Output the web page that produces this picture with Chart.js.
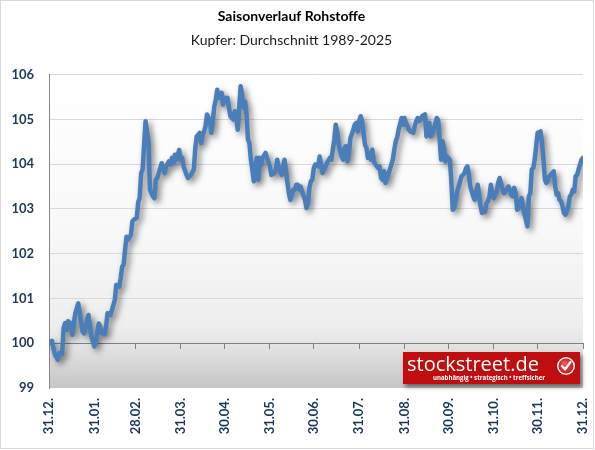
<!DOCTYPE html>
<html lang="de">
<head>
<meta charset="utf-8">
<title>Saisonverlauf Rohstoffe</title>
<script src="https://cdn.jsdelivr.net/npm/chart.js@4.4.1/dist/chart.umd.min.js"></script>
<style>
  html, body { margin: 0; padding: 0; background: #fff; }
  #rahmen { position: relative; width: 595px; height: 450px; }
  #rahmen canvas { position: absolute; left: 0; top: 0; }
  #linie { position: absolute; left: 0; top: 0; width: 594px; height: 449px; border: 1px solid #d9d9d9; box-sizing: border-box; pointer-events: none; }
</style>
</head>
<body>
<div id="rahmen">
  <canvas id="grafik" width="595" height="450"></canvas>
  <div id="linie"></div>
</div>
<script>
// =====================================================
// DATEN - KUPFER SAISONVERLAUF (Tag im Jahr / Indexwert)
// =====================================================

const tage = [
  0, 2, 4, 6, 7, 9, 10, 11, 12, 13, 15, 16, 17, 18, 20, 21, 23, 24, 26, 27, 28, 29, 31, 32, 33, 34, 35, 36, 38, 39,
  40, 42, 43, 45, 46, 48, 49, 50, 51, 52, 53, 54, 56, 57, 58, 60, 61, 62, 63, 64, 65, 66, 67, 68, 69, 70, 71, 72, 73, 74,
  75, 77, 78, 79, 80, 82, 83, 84, 85, 86, 87, 89, 90, 91, 92, 94, 95, 97, 99, 100, 101, 103, 104, 105, 106, 107, 108, 110, 111, 112,
  113, 114, 115, 116, 118, 119, 120, 121, 122, 123, 124, 126, 127, 128, 129, 130, 131, 132, 133, 134, 135, 136, 137, 138, 139, 140, 141, 142, 143, 144,
  145, 146, 148, 149, 151, 152, 154, 155, 156, 157, 159, 160, 161, 162, 163, 164, 165, 167, 168, 169, 170, 171, 172, 173, 175, 176, 177, 178, 179, 180,
  181, 182, 184, 185, 186, 187, 189, 190, 192, 193, 194, 195, 196, 197, 198, 200, 201, 202, 203, 204, 205, 206, 208, 209, 210, 211, 212, 213, 214, 216,
  217, 218, 219, 220, 221, 222, 224, 225, 226, 227, 228, 229, 230, 231, 233, 235, 236, 237, 238, 239, 241, 242, 243, 244, 245, 246, 247, 249, 250, 251,
  252, 253, 254, 255, 257, 258, 259, 260, 261, 262, 263, 265, 266, 267, 268, 269, 270, 271, 272, 274, 275, 276, 277, 278, 279, 280, 282, 283, 284, 285,
  286, 287, 288, 290, 291, 292, 293, 294, 295, 296, 298, 299, 300, 301, 302, 303, 304, 306, 307, 308, 309, 310, 311, 312, 314, 315, 316, 317, 318, 319,
  320, 321, 323, 324, 325, 326, 327, 328, 329, 330, 331, 332, 333, 334, 336, 337, 338, 339, 340, 341, 342, 344, 345, 346, 347, 348, 349, 350, 351, 352,
  353, 355, 356, 357, 358, 359, 360, 361, 362, 364, 365
];

const werte = [
  100.0, 100.05, 99.75, 99.63, 99.78, 99.76, 100.34, 100.45, 100.3, 100.49, 100.44, 100.19, 100.45, 100.67, 100.89, 100.67, 100.26, 100.22, 100.52, 100.63, 100.37, 100.15, 99.93, 100.0, 100.26, 100.44, 100.37, 100.23, 100.2, 100.37,
  100.67, 100.63, 100.74, 100.97, 101.3, 101.26, 101.45, 101.71, 101.75, 102.09, 102.38, 102.31, 102.42, 102.72, 102.76, 102.8, 103.15, 103.25, 103.8, 103.88, 104.43, 104.96, 104.73, 104.51, 103.43, 103.35, 103.28, 103.24, 103.65, 103.69,
  103.8, 104.02, 103.91, 103.8, 103.95, 104.06, 103.99, 104.14, 104.02, 104.21, 104.1, 104.32, 104.1, 104.14, 103.95, 103.76, 103.69, 103.76, 103.88, 104.36, 104.62, 104.7, 104.47, 104.66, 104.73, 104.85, 105.11, 104.96, 104.7, 104.99,
  105.29, 105.44, 105.66, 105.48, 105.59, 105.33, 105.48, 105.4, 105.48, 105.26, 105.07, 105.0, 105.18, 105.07, 104.77, 105.26, 105.74, 105.55, 105.26, 105.4, 105.11, 104.55, 104.47, 104.1, 103.88, 103.62, 103.95, 104.14, 103.65, 104.14,
  103.99, 104.14, 104.25, 104.14, 103.95, 103.76, 103.8, 103.88, 104.1, 103.91, 103.76, 103.95, 104.1, 103.84, 103.58, 103.35, 103.2, 103.43, 103.43, 103.54, 103.54, 103.43, 103.5, 103.39, 103.2, 103.02, 103.13, 103.47, 103.62, 103.65,
  103.91, 103.99, 103.95, 104.17, 103.99, 103.8, 103.95, 104.02, 104.14, 104.1, 104.32, 104.55, 104.88, 104.73, 104.43, 104.17, 104.1, 104.36, 104.4, 104.06, 104.25, 104.58, 104.77, 104.88, 104.92, 104.73, 104.96, 105.07, 104.96, 104.43,
  104.36, 104.14, 104.25, 104.1, 104.32, 104.06, 103.95, 103.91, 103.95, 103.69, 103.65, 103.84, 103.58, 103.69, 103.88, 104.1, 104.32, 104.51, 104.6, 104.77, 105.03, 104.88, 105.03, 104.92, 104.85, 104.77, 104.73, 104.7, 104.85, 104.96,
  105.03, 104.96, 104.99, 105.07, 105.11, 104.62, 104.81, 104.92, 104.62, 104.7, 104.77, 105.03, 104.99, 104.55, 104.1, 104.51, 104.36, 104.06, 104.17, 104.1, 103.62, 102.98, 103.02, 103.2, 103.39, 103.5, 103.73, 103.76, 103.8, 103.91,
  103.95, 103.76, 103.5, 103.28, 103.2, 103.39, 103.54, 103.32, 103.06, 102.91, 102.94, 103.13, 103.17, 103.28, 103.54, 103.35, 103.24, 103.39, 103.58, 103.69, 103.58, 103.43, 103.35, 103.39, 103.5, 103.43, 103.32, 103.28, 103.47, 103.35,
  102.98, 103.02, 103.24, 103.06, 102.87, 102.76, 102.61, 103.28, 103.35, 103.88, 103.91, 104.1, 104.4, 104.7, 104.73, 104.47, 104.1, 103.65, 103.58, 103.62, 103.73, 103.8, 103.84, 103.5, 103.32, 103.35, 103.2, 103.17, 103.06, 102.91,
  102.87, 103.06, 103.28, 103.32, 103.43, 103.39, 103.73, 103.76, 103.88, 104.1, 104.14
];

// Monatsenden (Tag im Jahr) und ihre Beschriftung
const monatsTage = [0, 31, 59, 90, 120, 151, 181, 212, 243, 273, 304, 334, 365];
const monatsLabels = ["31.12.", "31.01.", "28.02.", "31.03.", "30.04.", "31.05.", "30.06.", "31.07.", "31.08.", "30.09.", "31.10.", "30.11.", "31.12."];

const yMin = 99;
const yMax = 106;

const schrift = "Lato, 'Noto Sans', sans-serif";

// =====================================================
// PLUGINS
// =====================================================

// Hintergrund der Zeichenflaeche (weiss -> grau)
const hintergrund = {
  id: "hintergrund",
  beforeDraw(chart) {
    const { ctx, chartArea: a } = chart;
    const g = ctx.createLinearGradient(0, a.top, 0, a.bottom);
    g.addColorStop(0, "#ffffff");
    g.addColorStop(0.5, "#f8f8f8");
    g.addColorStop(0.8, "#eeeeee");
    g.addColorStop(0.86, "#e4e4e4");
    g.addColorStop(1, "#c6c6c6");
    ctx.save();
    ctx.fillStyle = g;
    ctx.fillRect(a.left, a.top, a.right - a.left, a.bottom - a.top);
    ctx.restore();
  }
};

// Schatten unter der Linie
const schatten = {
  id: "schatten",
  beforeDatasetsDraw(chart) {
    const ctx = chart.ctx;
    ctx.save();
    ctx.shadowColor = "rgba(0, 0, 0, 0.5)";
    ctx.shadowBlur = 6;
    ctx.shadowOffsetX = 3;
    ctx.shadowOffsetY = 3;
  },
  afterDatasetsDraw(chart) {
    chart.ctx.restore();
  }
};

// Logo unten rechts
const logo = {
  id: "logo",
  afterDraw(chart) {
    const { ctx, chartArea: a } = chart;
    const x = a.right - 180;
    const y = a.bottom - 36;
    const w = 177;
    const h = 32;

    ctx.save();
    ctx.shadowColor = "rgba(0, 0, 0, 0.5)";
    ctx.shadowBlur = 4;
    ctx.shadowOffsetX = 2;
    ctx.shadowOffsetY = 3;
    ctx.fillStyle = "#bf0d10";
    ctx.fillRect(x, y, w, h);
    ctx.restore();

    ctx.save();
    ctx.fillStyle = "#ffffff";
    ctx.textBaseline = "alphabetic";
    ctx.font = "20px 'Open Sans', sans-serif";
    ctx.fillText("stockstreet.de", x + 4, y + 19, 141);
    ctx.font = "bold 7px 'Open Sans', sans-serif";
    ctx.fillText("unabhängig • strategisch • treffsicher", x + 30, y + 28, 112);

    // Haken-Symbol
    const cx = x + 163;
    const cy = y + 14;
    ctx.beginPath();
    ctx.arc(cx, cy, 9, 0, Math.PI * 2);
    ctx.fillStyle = "#f4f4f4";
    ctx.fill();
    const rg = ctx.createRadialGradient(cx - 2, cy - 3, 1, cx, cy, 8);
    rg.addColorStop(0, "#f05a50");
    rg.addColorStop(1, "#c4161c");
    ctx.beginPath();
    ctx.arc(cx, cy, 7.5, 0, Math.PI * 2);
    ctx.fillStyle = rg;
    ctx.fill();
    ctx.beginPath();
    ctx.moveTo(cx - 4, cy);
    ctx.lineTo(cx - 1, cy + 3.5);
    ctx.lineTo(cx + 4.5, cy - 4);
    ctx.strokeStyle = "#ffffff";
    ctx.lineWidth = 2.2;
    ctx.lineCap = "round";
    ctx.lineJoin = "round";
    ctx.stroke();
    ctx.restore();
  }
};

// =====================================================
// DIAGRAMM
// =====================================================

const monatsTicks = (scale) => {
  scale.ticks = monatsTage.map(v => ({ value: v }));
};

new Chart(document.getElementById("grafik"), {
  type: "line",
  data: {
    datasets: [{
      label: "Kupfer",
      data: tage.map((t, i) => ({ x: t, y: werte[i] })),
      borderColor: "#4a7ebb",
      borderWidth: 4.5,
      borderJoinStyle: "round",
      borderCapStyle: "round",
      pointRadius: 0,
      tension: 0,
      fill: false
    }]
  },
  options: {
    responsive: false,
    animation: false,
    layout: { padding: { right: 12 } },
    plugins: {
      legend: { display: false },
      tooltip: { enabled: false },
      title: {
        display: true,
        text: "Saisonverlauf Rohstoffe",
        color: "#000000",
        font: { family: schrift, size: 14, weight: "bold" },
        padding: { top: 8, bottom: 4 }
      },
      subtitle: {
        display: true,
        text: "Kupfer: Durchschnitt 1989-2025",
        color: "#1a1a1a",
        font: { family: schrift, size: 14 },
        padding: { top: 3, bottom: 26 }
      }
    },
    scales: {
      x: {
        type: "linear",
        min: 0,
        max: 365,
        afterBuildTicks: monatsTicks,
        afterFit: (s) => { s.height = 62; s.paddingLeft = 0; s.paddingRight = 0; },
        grid: { display: false, drawTicks: false },
        border: { display: false },
        ticks: {
          autoSkip: false,
          minRotation: 90,
          maxRotation: 90,
          padding: 10,
          color: "#17375e",
          font: { family: schrift, size: 13, weight: "bold" },
          callback: (v, i) => monatsLabels[i]
        }
      },
      achse: {
        type: "linear",
        axis: "x",
        position: { y: 100 },
        min: 0,
        max: 365,
        afterBuildTicks: monatsTicks,
        grid: { drawOnChartArea: false, drawTicks: true, tickLength: 5, color: "#808080" },
        border: { display: true, color: "#808080", width: 1 },
        ticks: { display: false }
      },
      y: {
        min: yMin,
        max: yMax,
        afterFit: (s) => { s.width = 49; },
        grid: {
          color: (c) => c.tick && c.tick.value === yMin ? "rgba(0,0,0,0)" : "#d9d9d9",
          drawTicks: false
        },
        border: { color: "#868686" },
        ticks: {
          stepSize: 1,
          padding: 15,
          color: "#1f3a60",
          font: { family: schrift, size: 13, weight: "bold" }
        }
      }
    }
  },
  plugins: [hintergrund, schatten, logo]
});
</script>
</body>
</html>
